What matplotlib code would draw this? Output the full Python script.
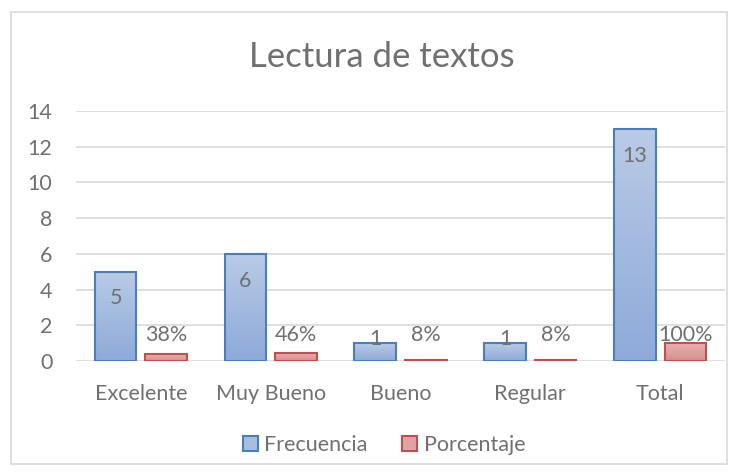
import matplotlib.pyplot as plt
import numpy as np
from matplotlib.colors import LinearSegmentedColormap
from matplotlib.patches import Rectangle

categories = ["Excelente", "Muy Bueno", "Bueno", "Regular", "Total"]
frecuencia = [5, 6, 1, 1, 13]
porcentaje = [0.38, 0.46, 0.08, 0.08, 1.00]
porcentaje_labels = ["38%", "46%", "8%", "8%", "100%"]

plt.rcParams["font.family"] = ["Lato", "DejaVu Sans"]
gray = "#707070"
fs = 15.5

fig = plt.figure(figsize=(7.39, 4.76), dpi=100)
fig.patches.append(Rectangle((11 / 739, 12 / 476), 716 / 739, 452 / 476,
                             transform=fig.transFigure, fill=False,
                             edgecolor="#d9d9d9", linewidth=1.2))
ax = fig.add_axes([76 / 739, 115 / 476, 649 / 739, 250 / 476])

x = np.arange(len(categories))
width = 0.32
offset = 0.195


def gradient_bars(bars, top, bottom):
    cmap = LinearSegmentedColormap.from_list("g", [bottom, top])
    grad = np.linspace(0, 1, 256).reshape(-1, 1)
    for b in bars:
        x0, y0 = b.get_x(), b.get_y()
        w, h = b.get_width(), b.get_height()
        im = ax.imshow(grad, cmap=cmap, aspect="auto", origin="lower",
                       extent=[x0, x0 + w, y0, y0 + h], zorder=2)
        im.set_clip_path(b)
        b.set_facecolor("none")


b1 = ax.bar(x - offset, frecuencia, width, edgecolor="#4a7ebb", linewidth=1.5,
            zorder=3, label="Frecuencia")
b2 = ax.bar(x + offset, porcentaje, width, edgecolor="#c0504d", linewidth=1.5,
            zorder=3, label="Porcentaje")
gradient_bars(b1, "#b9cbe6", "#8eaad9")
gradient_bars(b2, "#eab1b0", "#d68f8d")

for xi, v in zip(x, frecuencia):
    if v >= 2:
        ax.annotate(str(v), (xi - offset, v), xytext=(0, -12), textcoords="offset points",
                    ha="center", va="top", fontsize=fs, color=gray, zorder=4)
    else:
        ax.annotate(str(v), (xi - offset, v), xytext=(0, -4), textcoords="offset points",
                    ha="center", va="bottom", fontsize=fs, color=gray, zorder=4)
# labels of the small series sit at a common height just above the bars
for xi, v, lab in zip(x, porcentaje, porcentaje_labels):
    ax.text(xi + offset, max(v + 0.35, 1.45), lab, ha="center", va="center",
            fontsize=fs, color=gray, zorder=4)

ax.set_xlim(-0.5, len(categories) - 0.5)
ax.set_ylim(0, 14)
ax.set_yticks(range(0, 15, 2))
ax.set_xticks(x)
ax.set_xticklabels(categories)
ax.tick_params(length=0, labelsize=fs, colors=gray)
ax.tick_params(axis="x", pad=16.5)
ax.tick_params(axis="y", pad=17)
ax.grid(axis="y", color="#d9d9d9", linewidth=1.2, zorder=0)
ax.set_axisbelow(True)
for s in ax.spines.values():
    s.set_visible(False)

fig.text(381.5 / 739, 1 - 57 / 476, "Lectura de textos", fontsize=25, color=gray,
         ha="center", va="center")

h1 = Rectangle((0, 0), 1, 1, facecolor="#a8bde2", edgecolor="#4a7ebb", linewidth=1.5)
h2 = Rectangle((0, 0), 1, 1, facecolor="#e0a3a2", edgecolor="#c0504d", linewidth=1.5)
fig.legend([h1, h2], ["Frecuencia", "Porcentaje"], loc="center",
           bbox_to_anchor=(384 / 739, 1 - 445 / 476), ncol=2, frameon=False,
           fontsize=fs, labelcolor=gray, handlelength=0.7, handleheight=0.7,
           handletextpad=0.3, columnspacing=1.6)

fig.savefig("out.png", dpi=100)
